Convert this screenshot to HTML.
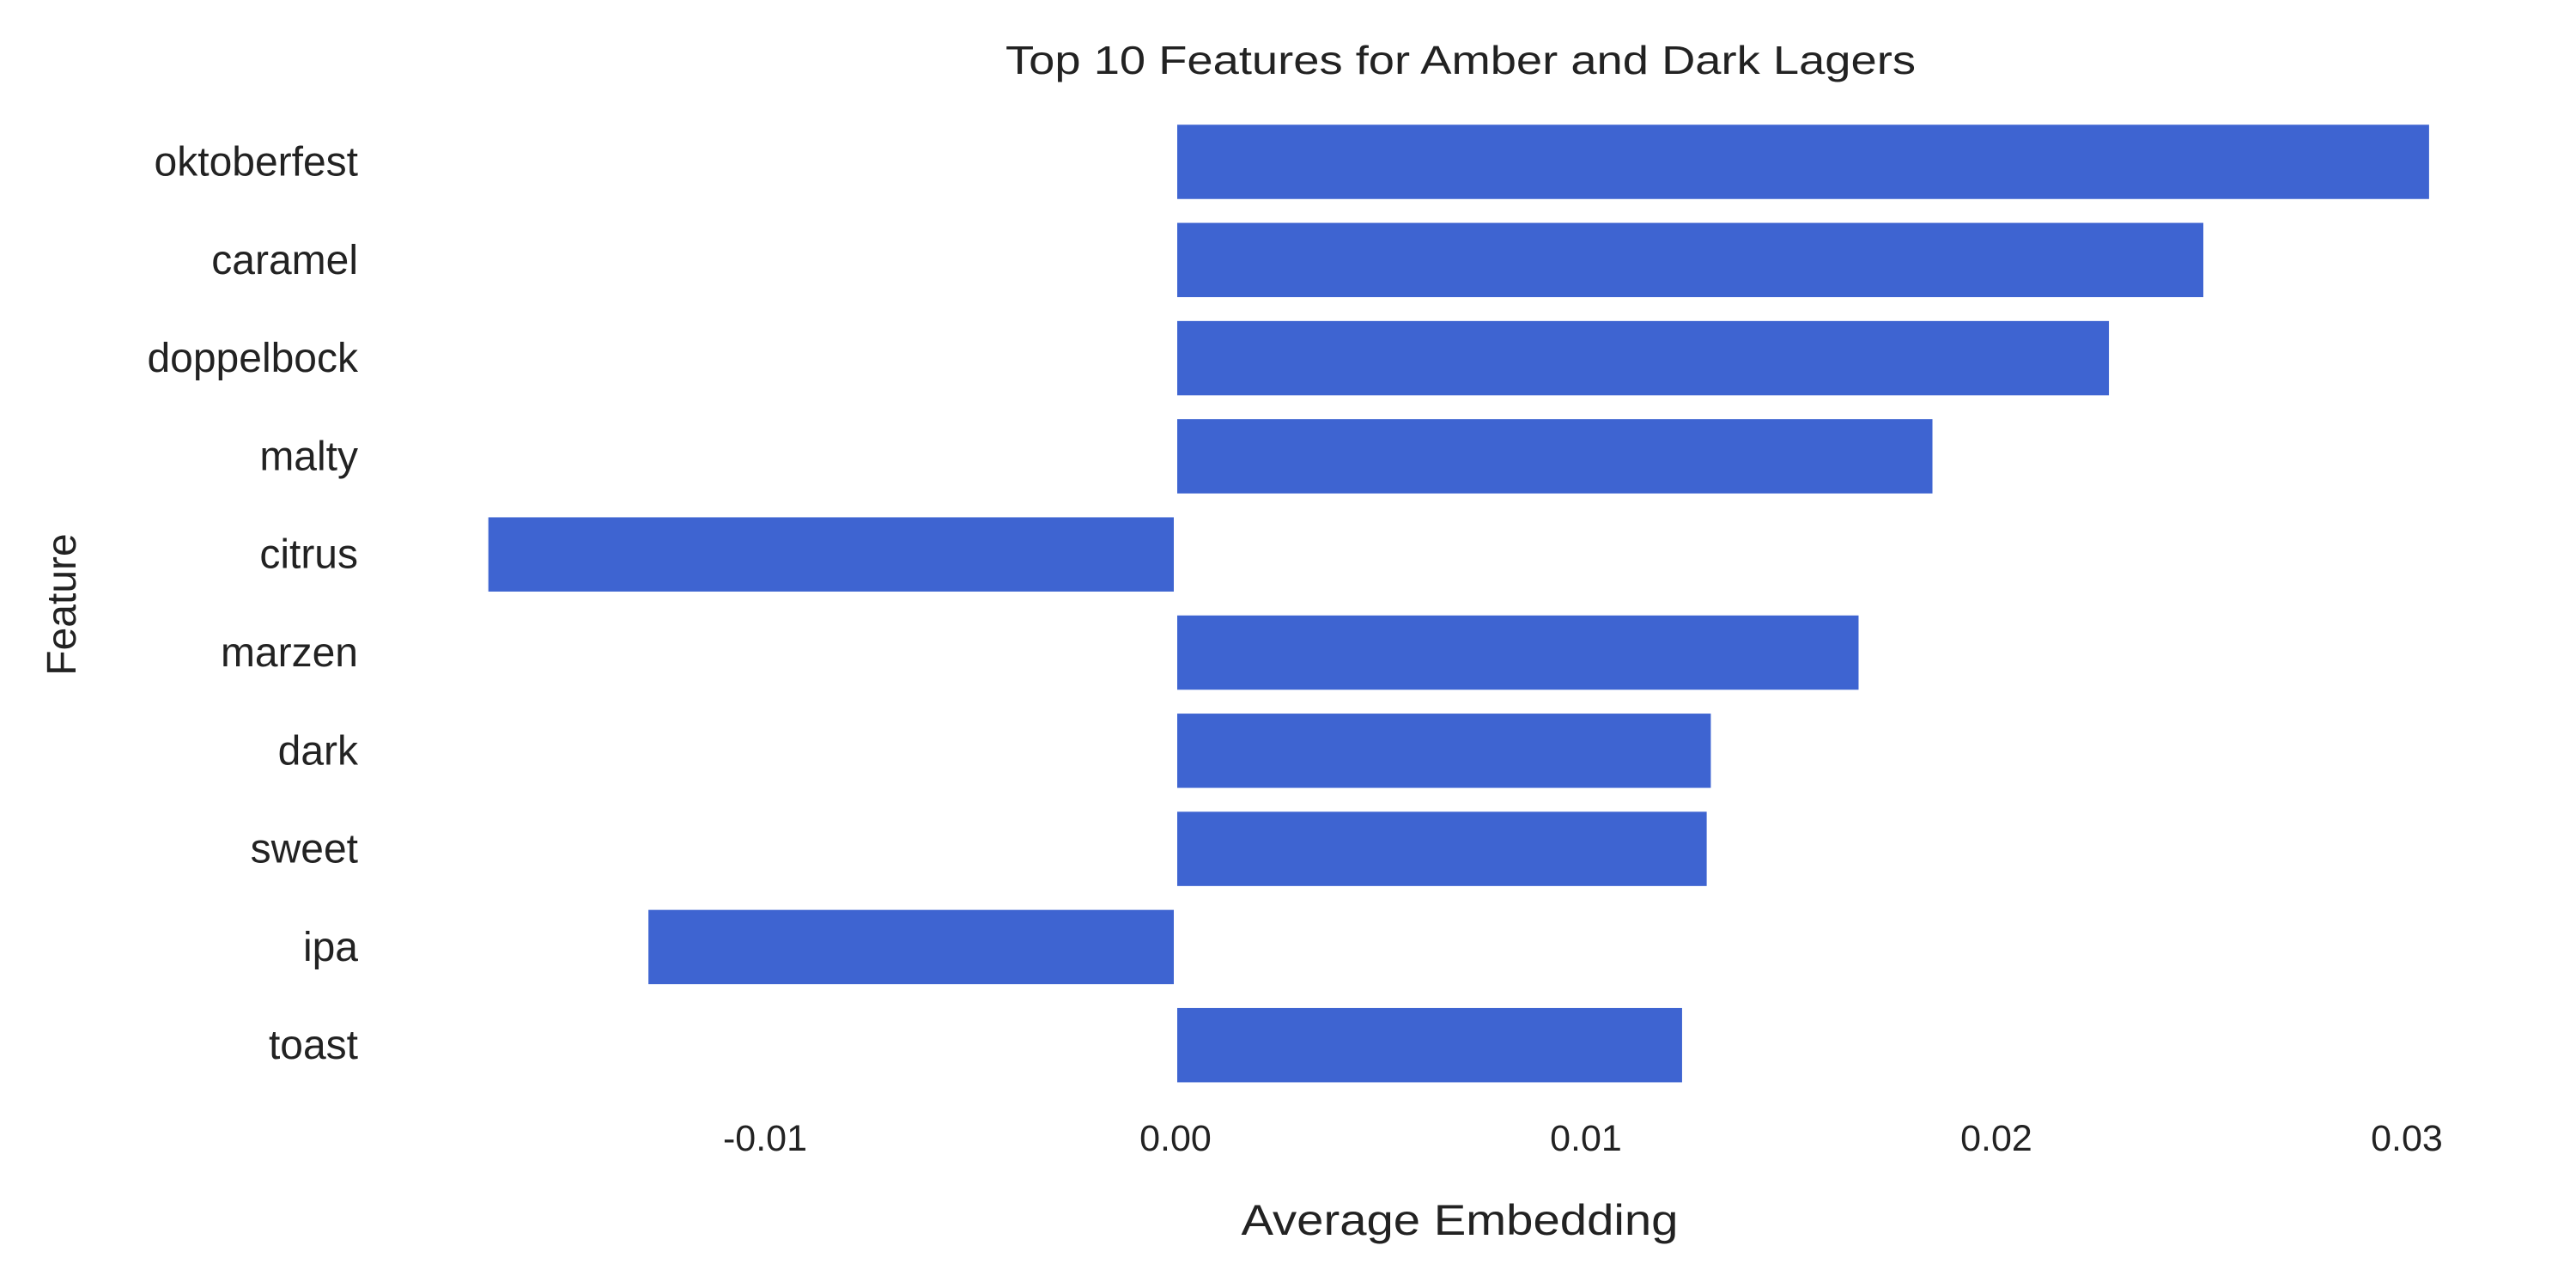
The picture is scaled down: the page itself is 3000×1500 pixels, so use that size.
<!DOCTYPE html>
<html><head><meta charset="utf-8"><style>
html,body{margin:0;padding:0;background:#fff;}
svg{display:block;font-family:"Liberation Sans",sans-serif;fill:#222;}
</style></head><body>
<svg id="chart" width="3000" height="1500" viewBox="0 0 3000 1500" xmlns="http://www.w3.org/2000/svg">
<text x="1701" y="86" font-size="46" text-anchor="middle" textLength="1060" lengthAdjust="spacingAndGlyphs">Top 10 Features for Amber and Dark Lagers</text>
<text x="1700" y="1438" font-size="50" text-anchor="middle" textLength="509" lengthAdjust="spacingAndGlyphs">Average Embedding</text>
<text transform="translate(88,704) rotate(-90)" font-size="48" text-anchor="middle">Feature</text>
<g id="bars"></g><g id="ylabels"></g><g id="xticks"></g>
</svg>
<script>
const categories = ["oktoberfest","caramel","doppelbock","malty","citrus","marzen","dark","sweet","ipa","toast"];
const values = [0.0305,0.0250,0.0227,0.0184,-0.0167,0.0166,0.0130,0.0129,-0.0128,0.0123];
const tickValues = [-0.01,0,0.01,0.02,0.03];
const tickLabels = ["-0.01","0.00","0.01","0.02","0.03"];
const NS="http://www.w3.org/2000/svg";
function x(v){return 1369+v*47800;}
function yc(i){return 188.5+i*114.3;}
const bh=86.5;
const bars=document.getElementById('bars'), yl=document.getElementById('ylabels'), xt=document.getElementById('xticks');
categories.forEach((c,i)=>{
  const r=document.createElementNS(NS,'rect');
  const v=values[i];
  r.setAttribute('x',Math.min(x(0),x(v))+(v>=0?2:-2));
  r.setAttribute('y',yc(i)-bh/2);
  r.setAttribute('width',Math.abs(x(v)-x(0)));
  r.setAttribute('height',bh);
  r.setAttribute('fill','#3e64d1');
  
  
  bars.appendChild(r);
  const t=document.createElementNS(NS,'text');
  t.setAttribute('x',417);t.setAttribute('y',yc(i)+16);
  t.setAttribute('font-size','48');t.setAttribute('text-anchor','end');
  t.textContent=c;
  
  
  yl.appendChild(t);
});
tickValues.forEach((v,i)=>{
  const t=document.createElementNS(NS,'text');
  t.setAttribute('x',x(v));t.setAttribute('y',1340);
  t.setAttribute('font-size','43');t.setAttribute('text-anchor','middle');
  t.textContent=tickLabels[i];
  
  
  xt.appendChild(t);
});
</script>
</body></html>
